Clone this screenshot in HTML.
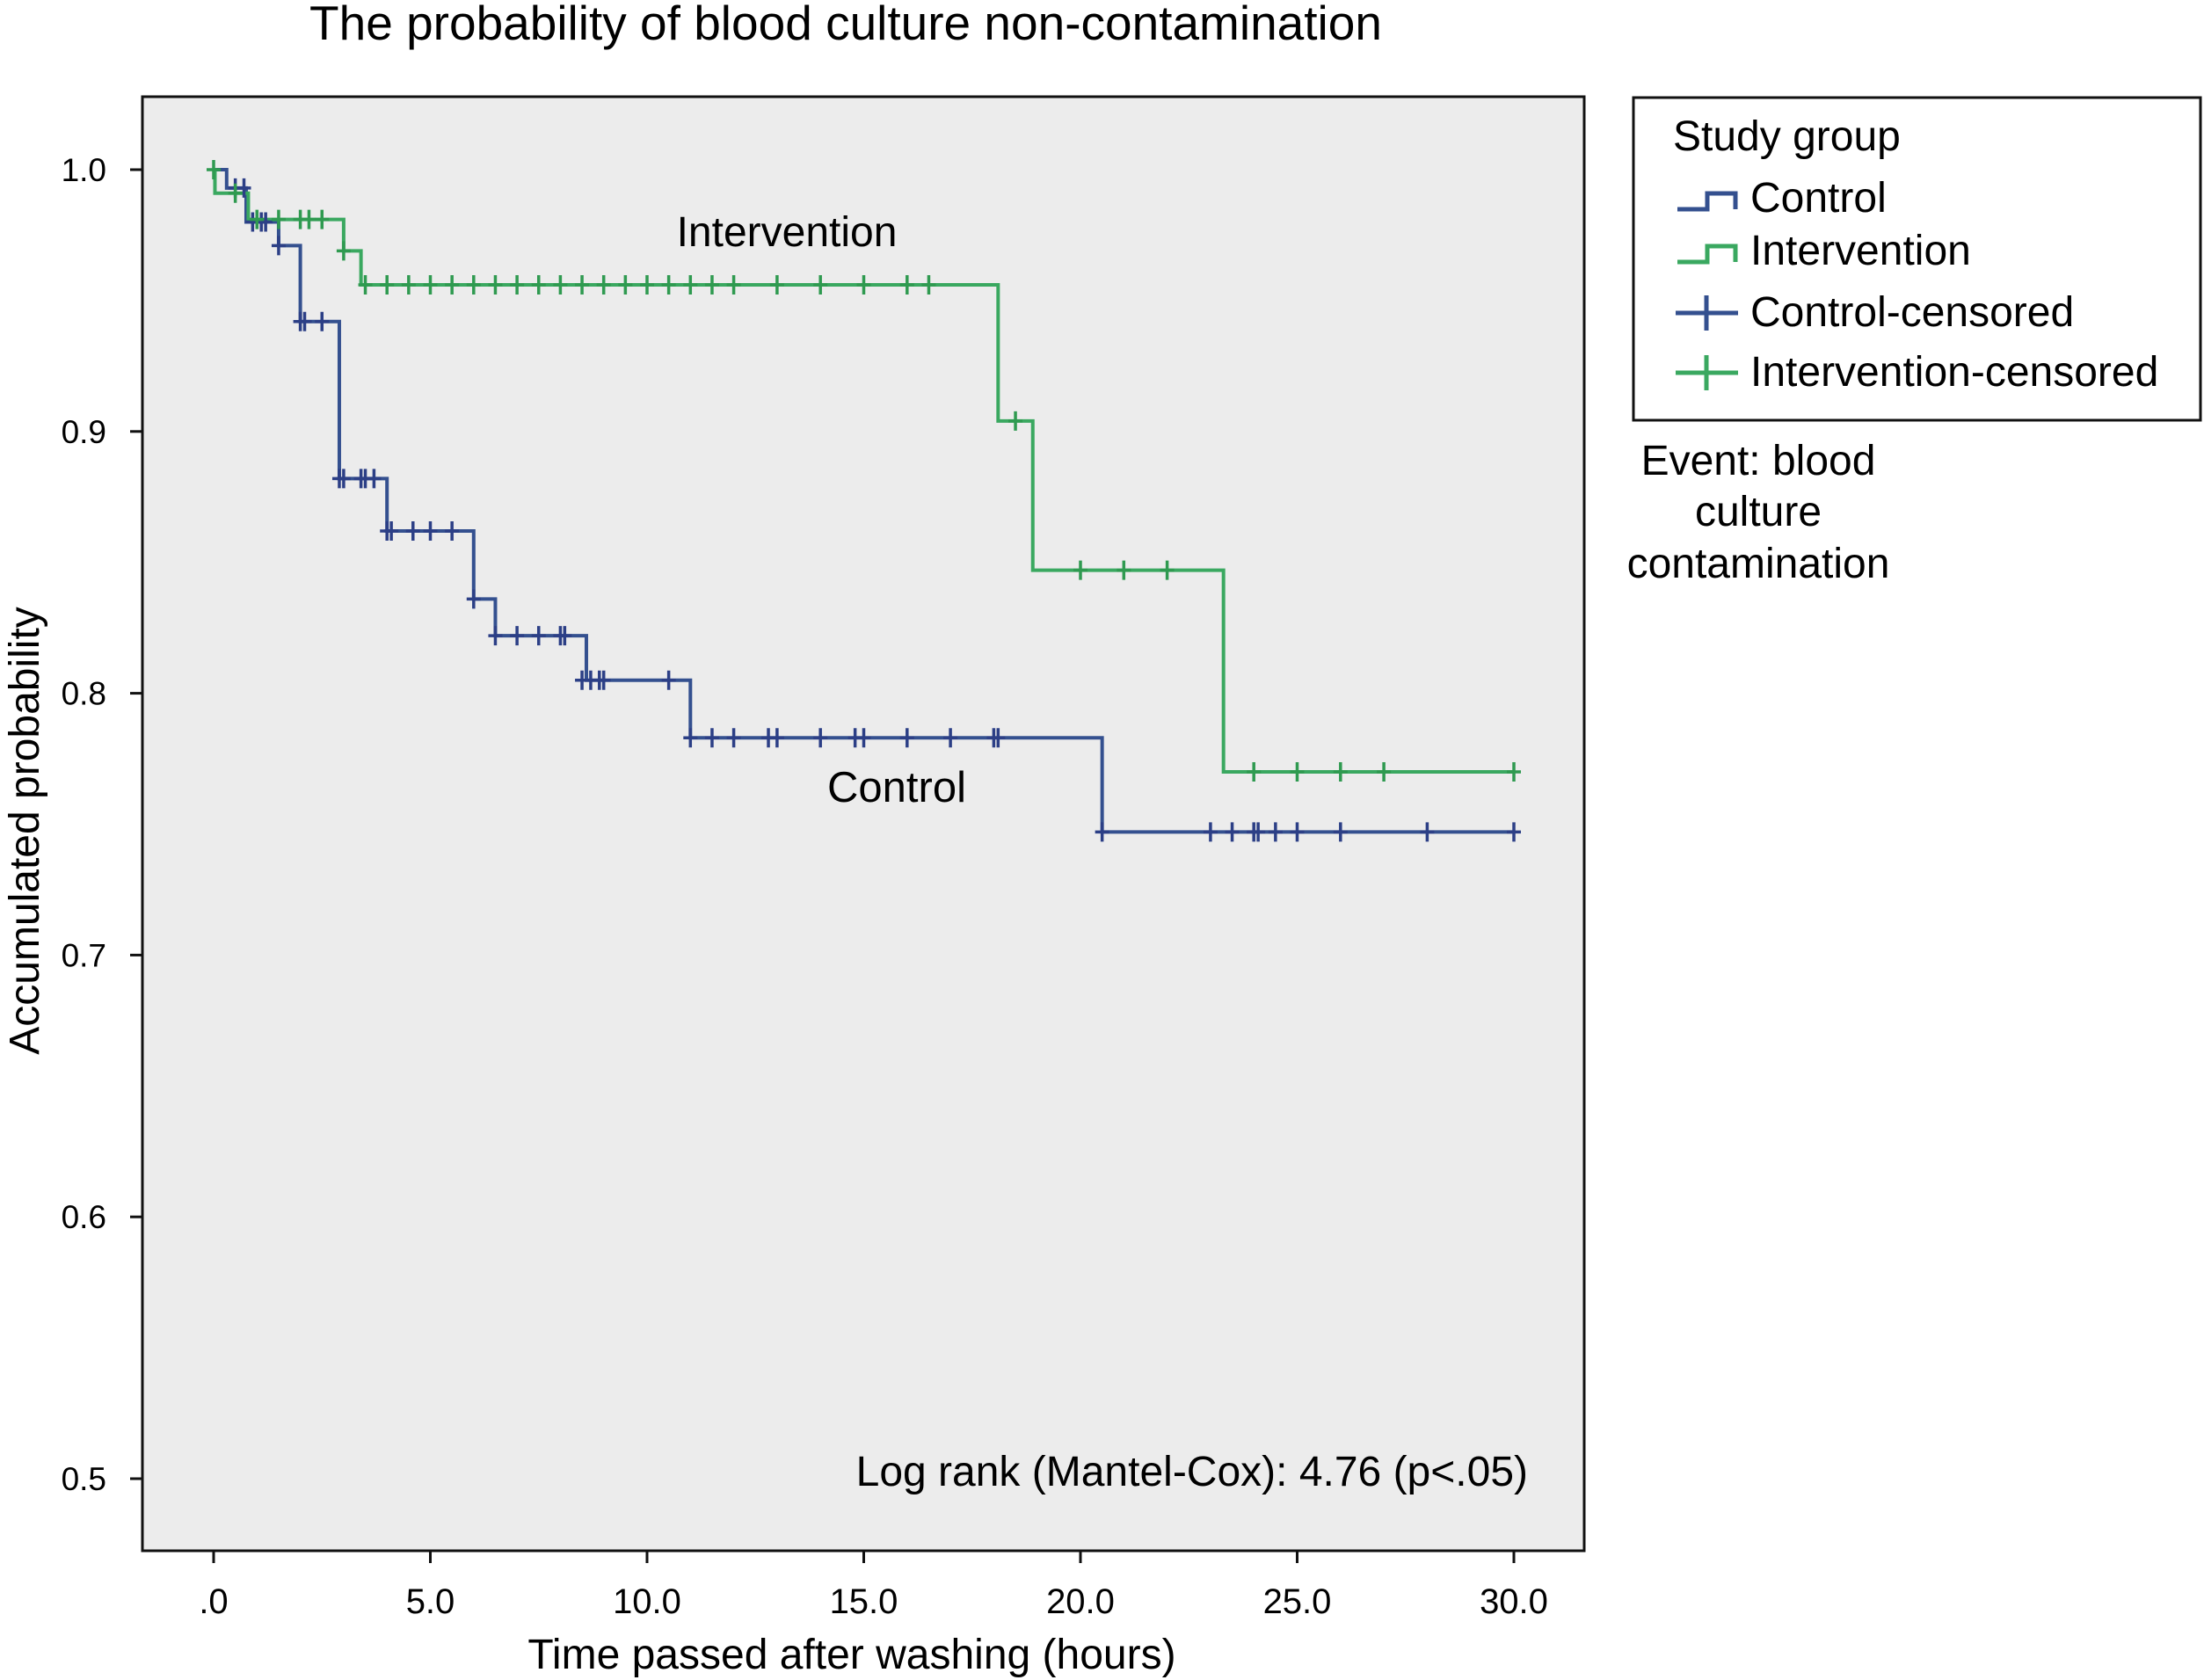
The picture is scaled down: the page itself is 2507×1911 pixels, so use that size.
<!DOCTYPE html>
<html><head><meta charset="utf-8"><style>
html,body{margin:0;padding:0;background:#fff;}
svg{display:block;font-family:"Liberation Sans",Arial,sans-serif;}
</style></head><body>
<svg id="chart" width="2507" height="1911" viewBox="0 0 2507 1911" xmlns="http://www.w3.org/2000/svg">
<text x="962" y="45" font-size="55" text-anchor="middle">The probability of blood culture non-contamination</text>
<rect x="162" y="110" width="1640" height="1654" fill="#ececec" stroke="#111" stroke-width="3"/>
<g id="yticks"></g>
<g id="xticks"></g>
<g id="series"></g>
<text x="895" y="280" font-size="48" text-anchor="middle">Intervention</text>
<text x="1020" y="912" font-size="49" text-anchor="middle">Control</text>
<text x="1738" y="1690" font-size="48" text-anchor="end">Log rank (Mantel-Cox): 4.76 (p&lt;.05)</text>
<text x="44" y="945" font-size="48" text-anchor="middle" transform="rotate(-90 44 945)">Accumulated probability</text>
<text x="969" y="1898" font-size="48" text-anchor="middle">Time passed after washing (hours)</text>
<g>
<rect x="1858" y="111" width="645" height="367" fill="#fff" stroke="#111" stroke-width="3"/>
<text x="1903" y="171" font-size="48">Study group</text>
<path d="M1908 238 H1942 V220 H1974 V238" fill="none" stroke="#34508f" stroke-width="5"/>
<text x="1991" y="241" font-size="48">Control</text>
<path d="M1908 298 H1942 V280 H1974 V298" fill="none" stroke="#3aa860" stroke-width="5"/>
<text x="1991" y="301" font-size="48">Intervention</text>
<path d="M1906 356 H1977 M1941 336 V376" stroke="#34508f" stroke-width="5"/>
<text x="1991" y="371" font-size="48">Control-censored</text>
<path d="M1906 424 H1977 M1941 404 V444" stroke="#3aa860" stroke-width="5"/>
<text x="1991" y="439" font-size="48">Intervention-censored</text>
</g>
<text font-size="48" text-anchor="middle"><tspan x="2000" y="540">Event: blood</tspan><tspan x="2000" y="598">culture</tspan><tspan x="2000" y="657">contamination</tspan></text>
</svg>
<script>
const xTicks=[0,5,10,15,20,25,30];
const xTickLabels=[".0","5.0","10.0","15.0","20.0","25.0","30.0"];
const yTicks=[0.5,0.6,0.7,0.8,0.9,1.0];
const yTickLabels=["0.5","0.6","0.7","0.8","0.9","1.0"];
const controlTimes=[0,0.3,0.75,1.5,2.0,2.9,4.0,6.0,6.5,8.6,11.0,20.5,30];
const controlSurv=[1.0,0.993,0.980,0.971,0.942,0.882,0.862,0.836,0.822,0.805,0.783,0.747,0.747];
const interTimes=[0,0.03,0.8,3.0,3.4,18.1,18.9,23.3,30];
const interSurv=[1.0,0.991,0.981,0.969,0.956,0.904,0.847,0.770,0.770];
const controlCensT=[0.5,0.7,0.9,1.1,1.2,1.5,2.0,2.1,2.5,2.9,3.0,3.4,3.5,3.7,4.0,4.1,4.6,5.0,5.5,6.0,6.5,7.0,7.5,8.0,8.1,8.5,8.7,8.9,9.0,10.5,11.0,11.5,12.0,12.8,13.0,14.0,14.8,15.0,16.0,17.0,18.0,18.1,20.5,23.0,23.5,24.0,24.1,24.5,25.0,26.0,28.0,30.0];
const controlCensS=[0.993,0.993,0.980,0.980,0.980,0.971,0.942,0.942,0.942,0.882,0.882,0.882,0.882,0.882,0.862,0.862,0.862,0.862,0.862,0.836,0.822,0.822,0.822,0.822,0.822,0.805,0.805,0.805,0.805,0.805,0.783,0.783,0.783,0.783,0.783,0.783,0.783,0.783,0.783,0.783,0.783,0.783,0.747,0.747,0.747,0.747,0.747,0.747,0.747,0.747,0.747,0.747];
const interCensT=[0.0,0.5,1.0,1.5,2.0,2.2,2.5,3.0,3.5,4.0,4.5,5.0,5.5,6.0,6.5,7.0,7.5,8.0,8.5,9.0,9.5,10.0,10.5,11.0,11.5,12.0,13.0,14.0,15.0,16.0,16.5,18.5,20.0,21.0,22.0,24.0,25.0,26.0,27.0,30.0];
const interCensS=[1.0,0.991,0.981,0.981,0.981,0.981,0.981,0.969,0.956,0.956,0.956,0.956,0.956,0.956,0.956,0.956,0.956,0.956,0.956,0.956,0.956,0.956,0.956,0.956,0.956,0.956,0.956,0.956,0.956,0.956,0.956,0.904,0.847,0.847,0.847,0.770,0.770,0.770,0.770,0.770];

const NS="http://www.w3.org/2000/svg";
function xS(t){return 243+t*(1722-243)/30;}
function yS(v){return 193+(1.0-v)*(1682-193)/0.5;}
function mk(tag,attrs,parent){const e=document.createElementNS(NS,tag);for(const k in attrs)e.setAttribute(k,attrs[k]);parent.appendChild(e);return e;}

const yg=document.getElementById('yticks');
yTicks.forEach((v,i)=>{
  const l=mk('line',{x1:148,x2:162,y1:yS(v),y2:yS(v),stroke:'#111','stroke-width':3},yg);
  
  
  const t=mk('text',{x:121,y:yS(v)+13,'font-size':37,'text-anchor':'end'},yg);
  t.textContent=yTickLabels[i];
  
  
});
const xg=document.getElementById('xticks');
xTicks.forEach((v,i)=>{
  const l=mk('line',{x1:xS(v),x2:xS(v),y1:1764,y2:1778,stroke:'#111','stroke-width':3},xg);
  
  
  const t=mk('text',{x:xS(v),y:1835,'font-size':40,'text-anchor':'middle'},xg);
  t.textContent=xTickLabels[i];
  
  
});
const sg=document.getElementById('series');
function stepPath(ts,ss){let d='M'+xS(ts[0])+' '+yS(ss[0]);for(let i=1;i<ts.length;i++){d+=' H'+xS(ts[i])+' V'+yS(ss[i]);}return d;}
const cl=mk('path',{d:stepPath(controlTimes,controlSurv),fill:'none',stroke:'#34508f','stroke-width':4},sg);


const il=mk('path',{d:stepPath(interTimes,interSurv),fill:'none',stroke:'#3aa860','stroke-width':4},sg);


function cens(ts,ss,col,name){ts.forEach((t,i)=>{
  const p=mk('path',{d:'M'+xS(t)+' '+(yS(ss[i])-11)+' V'+(yS(ss[i])+11)+' M'+(xS(t)-8)+' '+yS(ss[i])+' H'+(xS(t)+8),stroke:col,'stroke-width':3.5},sg);
  
  
});}
cens(controlCensT,controlCensS,'#2c3f86','control-censored-mark');
cens(interCensT,interCensS,'#2f9a50','intervention-censored-mark');
</script>
</body></html>
